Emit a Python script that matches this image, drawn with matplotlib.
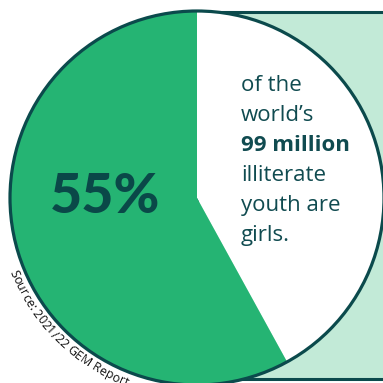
import numpy as np
import matplotlib.pyplot as plt
from matplotlib.patches import Circle, Rectangle
from matplotlib.font_manager import FontProperties

plt.switch_backend("Agg")

# data
shares = [42, 58]            # white wedge, green wedge (angles as drawn)
wedge_colors = ["#ffffff", "#25b473"]
headline = "55%"
text_lines = ["of the", "world\u2019s", "99 million", "illiterate", "youth are", "girls."]
bold_lines = ["99 million"]
source = "Source: 2021/22 GEM Report"

DARK = "#0b4a4c"
W = H = 383

fig = plt.figure(figsize=(3.83, 3.83), dpi=100)
ax = fig.add_axes([0, 0, 1, 1])

cx, cy, r = 197, H - 198, 187

# light green panel behind the circle
ax.add_patch(Rectangle((cx, H - 379), 300, 367, facecolor="#c2ead7",
                       edgecolor=DARK, lw=2.2, zorder=1))

ax.pie(shares, colors=wedge_colors, startangle=90, counterclock=False,
       center=(cx, cy), radius=r, frame=True,
       wedgeprops=dict(linewidth=0, zorder=2))
ax.set_xlim(0, W)
ax.set_ylim(0, H)
ax.set_aspect("equal")
ax.axis("off")

ax.add_patch(Circle((cx, cy), r, fill=False, edgecolor=DARK, lw=2.3, zorder=3))

ax.text(105, H - 197, headline, fontsize=40, fontweight="black", family="Lato",
        color="#0a4848", ha="center", va="center", zorder=4)

y0 = H - 91
for i, line in enumerate(text_lines):
    ax.text(241, y0 - 30 * i, line, fontsize=16,
            family="Open Sans",
            fontweight="bold" if line in bold_lines else "normal",
            color="#104b50", ha="left", va="baseline", zorder=4)

# source text running along the circle edge
renderer = fig.canvas.get_renderer()
r_txt = 198
start, end = np.deg2rad(201.5), np.deg2rad(249.5)
src_family = ["Liberation Sans Narrow", "Open Sans"]


def prefix_widths(prop):
    # advance up to the end of each character, taken from whole prefixes so kerning holds
    out = [0.0]
    for i in range(1, len(source) + 1):
        s = source[:i].replace(" ", "\u00a0")
        w, h, d = renderer.get_text_width_height_descent(s, prop, ismath=False)
        out.append(w)
    return np.array(out)


base = FontProperties(family=src_family, size=10)
size = 10 * (end - start) * r_txt / prefix_widths(base)[-1]
size = min(size, 9.0)
prop = FontProperties(family=src_family, size=size)
pw = prefix_widths(prop)
pw *= (end - start) * r_txt / pw[-1]

for i, ch in enumerate(source):
    if ch == " ":
        continue
    mid = start + 0.5 * (pw[i] + pw[i + 1]) / r_txt
    x = cx + r_txt * np.cos(mid)
    y = cy + r_txt * np.sin(mid)
    ax.text(x, y, ch, fontproperties=prop, color="#111111",
            rotation=np.rad2deg(mid) + 90, rotation_mode="anchor",
            ha="center", va="center", zorder=4)

fig.savefig("out.png", dpi=100)
